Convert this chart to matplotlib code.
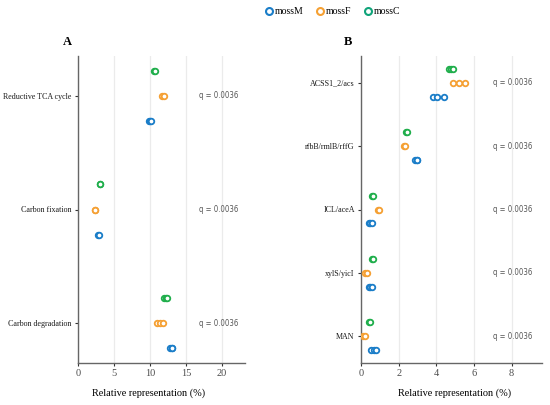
import matplotlib
matplotlib.use("Agg")
import matplotlib.pyplot as plt
from matplotlib.lines import Line2D
from matplotlib import font_manager

# ---- data ----
groups = ["mossM", "mossF", "mossC"]
colors = {"mossM": "#1a7dc8", "mossF": "#f5a033", "mossC": "#1fae4b"}
legend_colors = {"mossM": "#1a7dc8", "mossF": "#f5a033", "mossC": "#10a47a"}

cats_A = ["Reductive TCA cycle", "Carbon fixation", "Carbon degradation"]
A_mossM = [[9.8, 10.0, 10.2], [2.8, 2.85], [12.8, 13.0, 13.1]]
A_mossF = [[11.7, 11.9], [2.3, 2.4], [11.0, 11.4, 11.8]]
A_mossC = [[10.5, 10.65], [3.0, 3.1], [12.0, 12.2, 12.4]]
q_A = ["q = 0.0036", "q = 0.0036", "q = 0.0036"]

cats_B = ["ACSS1_2/acs", "rfbB/rmlB/rffG", "ICL/aceA", "xylS/yicI", "MAN"]
B_mossM = [[3.8, 4.05, 4.4], [2.85, 2.95, 3.0], [0.4, 0.5, 0.58], [0.42, 0.5, 0.58], [0.55, 0.7, 0.8]]
B_mossF = [[4.9, 5.2, 5.5], [2.28, 2.32], [0.88, 0.95], [0.22, 0.32], [0.12, 0.2]]
B_mossC = [[4.7, 4.8, 4.9], [2.4, 2.45], [0.6, 0.66], [0.58, 0.66], [0.4, 0.46]]
q_B = ["q = 0.0036"] * 5

serif = "Liberation Serif"
names = {f.name for f in font_manager.fontManager.ttflist}
if "Liberation Sans Narrow" in names:
    qfont = dict(family="Liberation Sans Narrow")
else:
    qfont = dict(family="DejaVu Sans", fontstretch="condensed")

fig = plt.figure(figsize=(5.5, 4.05), dpi=100)
W, H = 550, 405

def add_ax(l, r, t, b):
    return fig.add_axes([l / W, 1 - b / H, (r - l) / W, (b - t) / H])

def panel(ax, cats, M, F, C, qs, xmax, xticks, qx, ypad):
    n = len(cats)
    off = 0.22
    for vals, g, o in ((C, "mossC", -off), (F, "mossF", 0.0), (M, "mossM", off)):
        for i, v in enumerate(vals):
            y = i + o
            ax.plot([min(v), max(v)], [y, y], color=colors[g], lw=0.8, zorder=2)
            ax.plot(v, [y] * len(v), linestyle="none", marker="o", ms=4.0,
                    mfc="white", mec=colors[g], mew=1.3, zorder=3)
    for i, q in enumerate(qs):
        ax.text(qx, i, q, ha="center", va="center", fontsize=5.6,
                color="#555555", **qfont)
    ax.set_ylim(n - 1 + ypad, -ypad)
    ax.set_xlim(0, xmax)
    ax.set_yticks(range(n))
    ax.set_yticklabels(cats, family=serif, fontsize=5.8, color="#1a1a1a")
    ax.set_xticks(xticks)
    ax.set_xticklabels([str(t) for t in xticks], family=serif, fontsize=7.5, color="#4d4d4d")
    ax.grid(axis="x", color="#ebebeb", lw=0.9)
    ax.set_axisbelow(True)
    for s in ("top", "right"):
        ax.spines[s].set_visible(False)
    for s in ("left", "bottom"):
        ax.spines[s].set_color("#666666")
        ax.spines[s].set_linewidth(1.0)
    ax.tick_params(axis="both", length=2.5, width=0.8, color="#333333", pad=2)

axA = add_ax(78, 245, 56, 363)
panel(axA, cats_A, A_mossM, A_mossF, A_mossC, q_A, 23.2, [0, 5, 10, 15, 20], 19.6, 0.35)
axB = add_ax(361, 541.7, 56, 363)
panel(axB, cats_B, B_mossM, B_mossF, B_mossC, q_B, 9.6, [0, 2, 4, 6, 8], 8.05, 0.42)

fig.text(67 / W, 1 - 42 / H, "A", ha="center", va="center", family=serif,
         fontweight="bold", fontsize=9)
fig.text(348 / W, 1 - 42 / H, "B", ha="center", va="center", family=serif,
         fontweight="bold", fontsize=9)

fig.text(149 / W, 1 - 393 / H, "Relative representation (%)", ha="center", va="center",
         family=serif, fontsize=7.4)
fig.text(455 / W, 1 - 393 / H, "Relative representation (%)", ha="center", va="center",
         family=serif, fontsize=7.4)

# legend (manual placement)
leg_x = [269, 320, 368]
for g, x in zip(groups, leg_x):
    fig.add_artist(Line2D([x / W], [1 - 11 / H], transform=fig.transFigure,
                          linestyle="none", marker="o", ms=5, mfc="white",
                          mec=legend_colors[g], mew=1.5))
    fig.text((x + 6) / W, 1 - 11 / H, g, ha="left", va="center", family=serif,
             fontsize=7)

fig.savefig("out.png", dpi=100)
